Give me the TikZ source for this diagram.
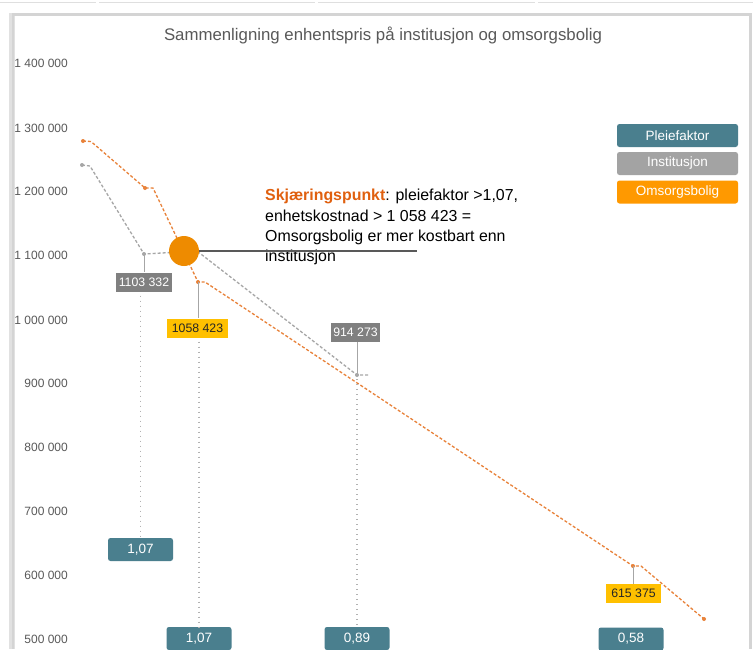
\documentclass[tikz,border=0pt]{standalone}
\usepackage{fontspec}
\setmainfont{Liberation Sans}
\definecolor{teal}{HTML}{4A7F8E}
\definecolor{valgray}{HTML}{808080}
\definecolor{leggray}{HTML}{A3A3A3}
\definecolor{valyellow}{HTML}{FFC000}
\definecolor{orline}{HTML}{E8823A}
\definecolor{grline}{HTML}{A6A6A6}
\definecolor{legorange}{HTML}{FF9900}
\definecolor{circ}{HTML}{EE8B00}
\definecolor{annor}{HTML}{E0600F}
\definecolor{axtext}{HTML}{595959}
\definecolor{frame}{HTML}{D4D4D4}
\tikzset{
  axlab/.style={anchor=east, text=axtext, font=\fontsize{12}{13}\selectfont, inner sep=0},
  pfbox/.style={fill=teal, rounded corners=2.5, text=white, minimum width=65, minimum height=23, inner sep=0, font=\fontsize{13.5}{14}\selectfont},
  legbox/.style={rounded corners=2.5, text=white, minimum width=121, minimum height=23, inner sep=0, font=\fontsize{13.5}{14}\selectfont},
  valbox/.style={minimum height=19, inner sep=0, font=\fontsize{12.3}{13}\selectfont},
  odash/.style={orline, line width=1.3, dash pattern=on 3pt off 2pt},
  gdash/.style={grline, line width=1.3, dash pattern=on 3pt off 2pt},
  leader/.style={draw=gray!70, line width=0.7},
  drop/.style={draw=gray!60, line width=1.1, dash pattern=on 1pt off 4pt},
}
\begin{document}
\begin{tikzpicture}[x=1pt,y=-1pt]
\useasboundingbox (0,0) rectangle (756,649);
\fill[white] (0,0) rectangle (756,649);
% top tabs
\foreach \a/\b in {0/96,99/315,318/535,538/753}{
  \draw[gray!25, line width=1] (\a,2) -- (\b,2);
}
% panel frame
\fill[frame!70] (9,13) rectangle (15,649);
\fill[frame] (12,13) rectangle (14,649);
\fill[frame] (12,13) rectangle (752,15.5);
\fill[frame] (749,13) rectangle (752,649);

% title
\node[text=axtext, font=\fontsize{16.8}{18}\selectfont] (title) at (383,35) {Sammenligning enhentspris på institusjon og omsorgsbolig};

% y axis
\node[axlab] (y14) at (68,63) {1 400 000};
\node[axlab] (y13) at (68,128) {1 300 000};
\node[axlab] (y12) at (68,191) {1 200 000};
\node[axlab] (y11) at (68,255) {1 100 000};
\node[axlab] (y10) at (68,320) {1 000 000};
\node[axlab] (y9) at (68,383) {900 000};
\node[axlab] (y8) at (68,447) {800 000};
\node[axlab] (y7) at (68,511) {700 000};
\node[axlab] (y6) at (68,575) {600 000};
\node[axlab] (y5) at (68,639) {500 000};

% data points
\coordinate (o1) at (83,141);
\coordinate (o2) at (145,188);
\coordinate (o3) at (198,282);
\coordinate (o4) at (633,566);
\coordinate (o5) at (704,619);
\coordinate (g1) at (82,165);
\coordinate (g2) at (144,254);
\coordinate (g3) at (357,375);

% series lines
\draw[gdash] (g1) -- (90,166) -- (g2) -- (197,251) -- (g3) -- (368,375);
\draw[odash] (o1) -- (91,141.5) -- (o2) -- (153,188) -- (o3) -- (205,282) -- (o4) -- (641,566) -- (o5);
\foreach \p in {o1,o2,o3,o4,o5} \fill[orline] (\p) circle (2);
\foreach \p in {g1,g2,g3} \fill[grline] (\p) circle (2);

% value labels
\node[valbox, fill=valgray, text=white, minimum width=56] (v1) at (144,282) {1103 332};
\node[valbox, fill=valyellow, text=black!85, minimum width=61] (v2) at (197.5,328) {1058 423};
\node[valbox, fill=valgray, text=white, minimum width=49] (v3) at (355.5,332.5) {914 273};
\node[valbox, fill=valyellow, text=black!85, minimum width=55] (v4) at (633.5,593.5) {615 375};
\draw[leader] (g2) -- (g2 |- v1.north);
\draw[leader] (o3) -- (o3 |- v2.north);
\draw[leader] (g3) -- (g3 |- v3.south);
\draw[leader] (o4) -- (o4 |- v4.north);

% pleiefaktor boxes
\node[pfbox] (p1) at (140.5,549.5) {1,07};
\node[pfbox] (p2) at (199,638.5) {1,07};
\node[pfbox] (p3) at (357,638.5) {0,89};
\node[pfbox] (p4) at (631,639) {0,58};
\draw[drop] (p1.north |- v1.south) ++(0,4) -- (p1.north);
\draw[drop] (p2.north |- v2.south) ++(0,4) -- (p2.north);
\draw[drop] (p3.north |- g3) ++(0,4) -- (p3.north);

% legend
\node[legbox, fill=teal] (l1) at (677.5,135.5) {Pleiefaktor};
\node[legbox, fill=leggray] (l2) at (677.5,163.5) {Institusjon};
\node[legbox, fill=legorange] (l3) at (677.5,192) {Omsorgsbolig};

% annotation
\node[anchor=base west, align=left, inner sep=0, font=\fontsize{15.9}{20.2}\selectfont] (ann) at (265,261.5)
  {\textcolor{annor}{\textbf{Skjæringspunkt}}: pleiefaktor >1,07,\\enhetskostnad > 1 058 423 =\\Omsorgsbolig er mer kostbart enn\\institusjon};
\node[circle, fill=circ, minimum size=30, inner sep=0] (cross) at (184,251) {};
\coordinate (lineend) at (417,251);
\draw[black!65, line width=1.5] (cross.east) -- (lineend);
\end{tikzpicture}
\end{document}
